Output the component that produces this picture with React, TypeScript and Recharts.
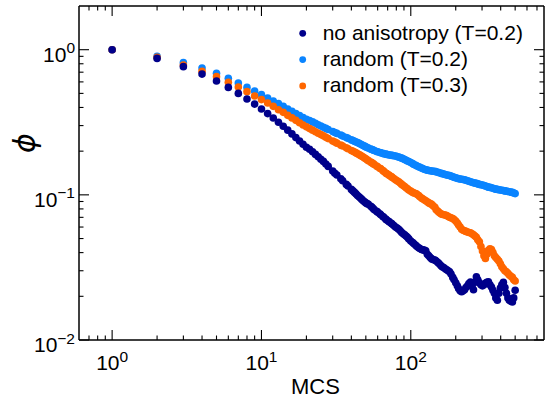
import React from 'react';
import { ScatterChart, Scatter, XAxis, YAxis, Legend } from 'recharts';

// MCS values (x) at which the curves are sampled
const MCS = [
  // 1 .. 38
  1, 2, 3, 4, 5, 6, 7, 8, 9, 10,
  11, 12, 13, 14, 15, 16, 17, 18, 19, 20,
  21, 22, 23, 24, 25, 26, 27, 28,
  30, 31, 32, 34, 35, 37, 38,
  // 40 .. 97
  40, 41, 42, 43, 44, 45, 46, 47, 48, 49,
  50, 51, 52, 54, 55, 56, 57, 59, 60, 62,
  63, 65, 66, 68, 69, 71, 72, 74, 75, 77,
  79, 81, 83, 85, 87, 89, 91, 93, 95, 97,
  // 100 .. 500
  100, 103, 105, 108, 110, 113, 115, 118, 120, 123,
  126, 129, 132, 135, 138, 141, 145, 148, 152, 155,
  159, 162, 166, 170, 174, 178, 182, 186, 191, 195,
  200, 205, 209, 214, 219, 224, 229, 234, 240, 245,
  251, 257, 263, 269, 275, 281, 288, 295, 302, 309,
  316, 323, 331, 339, 347, 355, 363, 371, 380, 389,
  398, 407, 417, 427, 437, 447, 457, 468, 479, 489,
  500,
];

// phi, no anisotropy (T=0.2)
const PHI_NO_ANISO = [
  1.0, 0.871, 0.764, 0.679, 0.608, 0.55, 0.5, 0.457, 0.422, 0.39,
  0.363, 0.338, 0.316, 0.297, 0.279, 0.263, 0.248, 0.235, 0.223, 0.213,
  0.206, 0.198, 0.19, 0.183, 0.176, 0.17, 0.163, 0.157,
  0.146, 0.141, 0.137, 0.129, 0.125, 0.118, 0.115,

  0.109, 0.1065, 0.104, 0.1015, 0.099, 0.097, 0.095, 0.093, 0.091, 0.0895,
  0.088, 0.087, 0.086, 0.0835, 0.082, 0.0805, 0.079, 0.077, 0.076, 0.074,
  0.073, 0.071, 0.07, 0.068, 0.067, 0.0657, 0.065, 0.0637, 0.063, 0.0615,
  0.06, 0.059, 0.058, 0.0565, 0.055, 0.054, 0.053, 0.052, 0.051, 0.0497,

  0.048, 0.047, 0.046, 0.045, 0.044, 0.0432, 0.0427, 0.042, 0.0418, 0.0416,
  0.0412, 0.039, 0.038, 0.037, 0.0362, 0.0358, 0.0356, 0.035, 0.0342, 0.0335,
  0.0326, 0.032, 0.0316, 0.031, 0.0305, 0.03, 0.0295, 0.0285, 0.027, 0.026,
  0.0248, 0.0236, 0.0226, 0.0218, 0.0215, 0.0218, 0.0222, 0.023, 0.0236, 0.0245,
  0.0251, 0.0235, 0.0222, 0.025, 0.0273, 0.026, 0.0248, 0.024, 0.0236, 0.024,
  0.0246, 0.025, 0.0252, 0.024, 0.0232, 0.022, 0.021, 0.0195, 0.0188, 0.021,
  0.0228, 0.024, 0.025, 0.023, 0.021, 0.0195, 0.0188, 0.0185, 0.0183, 0.0195,
  0.022,
];

// phi, random (T=0.2)
const PHI_RANDOM_02 = [
  1.0, 0.9, 0.814, 0.747, 0.687, 0.635, 0.589, 0.55, 0.519, 0.49,
  0.464, 0.443, 0.425, 0.407, 0.39, 0.376, 0.363, 0.352, 0.341, 0.332,
  0.325, 0.318, 0.311, 0.304, 0.298, 0.292, 0.287, 0.282,
  0.273, 0.269, 0.265, 0.258, 0.254, 0.248, 0.245,

  0.239, 0.2365, 0.234, 0.2315, 0.229, 0.2265, 0.224, 0.2215, 0.219, 0.2165,
  0.214, 0.212, 0.21, 0.2065, 0.205, 0.2035, 0.202, 0.199, 0.198, 0.196,
  0.195, 0.193, 0.192, 0.1907, 0.19, 0.1887, 0.188, 0.1873, 0.187, 0.186,
  0.185, 0.1835, 0.182, 0.1805, 0.179, 0.177, 0.175, 0.173, 0.171, 0.1695,

  0.167, 0.164, 0.162, 0.16, 0.158, 0.156, 0.155, 0.153, 0.152, 0.15,
  0.149, 0.148, 0.147, 0.1465, 0.146, 0.1455, 0.145, 0.144, 0.143, 0.142,
  0.141, 0.14, 0.139, 0.138, 0.137, 0.1365, 0.136, 0.1345, 0.133, 0.132,
  0.131, 0.13, 0.129, 0.1285, 0.128, 0.1275, 0.127, 0.126, 0.125, 0.124,
  0.123, 0.122, 0.121, 0.1205, 0.12, 0.119, 0.118, 0.1175, 0.117, 0.116,
  0.115, 0.114, 0.113, 0.1125, 0.112, 0.111, 0.11, 0.1095, 0.109, 0.1085,
  0.108, 0.1075, 0.107, 0.1065, 0.106, 0.1055, 0.105, 0.1045, 0.104, 0.103,
  0.102,
];

// phi, random (T=0.3)
const PHI_RANDOM_03 = [
  1.0, 0.885, 0.784, 0.709, 0.652, 0.596, 0.553, 0.514, 0.48, 0.453,
  0.429, 0.407, 0.386, 0.37, 0.353, 0.339, 0.326, 0.314, 0.303, 0.294,
  0.286, 0.279, 0.272, 0.266, 0.26, 0.255, 0.249, 0.244,
  0.235, 0.231, 0.227, 0.22, 0.217, 0.211, 0.208,

  0.202, 0.1995, 0.197, 0.1945, 0.192, 0.1895, 0.187, 0.1845, 0.182, 0.1795,
  0.177, 0.1745, 0.172, 0.168, 0.166, 0.164, 0.162, 0.158, 0.156, 0.1525,
  0.151, 0.147, 0.145, 0.1415, 0.14, 0.1375, 0.136, 0.1335, 0.132, 0.1295,
  0.127, 0.125, 0.123, 0.1205, 0.118, 0.116, 0.114, 0.112, 0.11, 0.108,

  0.106, 0.104, 0.103, 0.102, 0.101, 0.099, 0.097, 0.095, 0.094, 0.0925,
  0.091, 0.0895, 0.088, 0.087, 0.086, 0.084, 0.082, 0.079, 0.077, 0.0755,
  0.074, 0.0735, 0.073, 0.0725, 0.072, 0.071, 0.07, 0.0695, 0.0687, 0.0675,
  0.066, 0.064, 0.062, 0.06, 0.058, 0.057, 0.0565, 0.056, 0.0555, 0.055,
  0.0548, 0.054, 0.053, 0.052, 0.051, 0.049, 0.0475, 0.044, 0.041, 0.038,
  0.0365, 0.039, 0.0415, 0.0425, 0.042, 0.04, 0.038, 0.037, 0.036, 0.035,
  0.0335, 0.032, 0.031, 0.03, 0.0295, 0.0288, 0.028, 0.0275, 0.027, 0.026,
  0.0255,
];

const X_TICKS = [
  0.7, 0.8, 0.9,
  1, 2, 3, 4, 5, 6, 7, 8, 9,
  10, 20, 30, 40, 50, 60, 70, 80, 90,
  100, 200, 300, 400, 500, 600, 700,
];
const Y_TICKS = [
  0.01, 0.02, 0.03, 0.04, 0.05, 0.06, 0.07, 0.08, 0.09,
  0.1, 0.2, 0.3, 0.4, 0.5, 0.6, 0.7, 0.8, 0.9,
  1,
];

const SERIES_NAMES = ['no anisotropy (T=0.2)', 'random (T=0.2)', 'random (T=0.3)'];
const COLORS = ['#00008b', '#0a84ff', '#ff6600'];

const FONT = '"Liberation Sans", Arial, Helvetica, sans-serif';
const X_DOMAIN: [number, number] = [0.6, 780];
const Y_DOMAIN: [number, number] = [0.01, 2];

const toPoints = (ys: number[]) => MCS.map((x, i) => ({ x, y: ys[i] }));
const dataNo = toPoints(PHI_NO_ANISO);
const data02 = toPoints(PHI_RANDOM_02);
const data03 = toPoints(PHI_RANDOM_03);

const isMajor = (v: number) => {
  const lg = Math.log10(v);
  return Math.abs(lg - Math.round(lg)) < 1e-6;
};
const expText = (v: number) => {
  const e = Math.round(Math.log10(v));
  return e < 0 ? '\u2212' + Math.abs(e) : String(e);
};

const makeXTick = (side: 'bottom' | 'top') => (props: any) => {
  const { x, y, payload } = props;
  const v = payload.value;
  const major = isMajor(v);
  const len = major ? 10 : 4.5;
  const dir = side === 'bottom' ? -1 : 1;
  return (
    <g>
      <line x1={x} y1={y} x2={x} y2={y + dir * len} stroke="#000" strokeWidth={1.1} />
      {side === 'bottom' && major && (
        <text x={x} y={y + 30} textAnchor="middle" fontSize={21} fontFamily={FONT} fill="#000">
          10
          <tspan dy={-8.5} fontSize={15.5}>{expText(v)}</tspan>
        </text>
      )}
    </g>
  );
};

const makeYTick = (side: 'left' | 'right') => (props: any) => {
  const { x, y, payload } = props;
  const v = payload.value;
  const major = isMajor(v);
  const len = major ? 10 : 4.5;
  const dir = side === 'left' ? 1 : -1;
  return (
    <g>
      <line x1={x} y1={y} x2={x + dir * len} y2={y} stroke="#000" strokeWidth={1.1} />
      {side === 'left' && major && (
        <text x={x - 4} y={y + 12} textAnchor="end" fontSize={21} fontFamily={FONT} fill="#000">
          10
          <tspan dy={-8.5} fontSize={15.5}>{expText(v)}</tspan>
        </text>
      )}
    </g>
  );
};

const dot = (color: string, r: number) => (p: any) =>
  p.cx == null || p.cy == null ? <g /> : <circle cx={p.cx} cy={p.cy} r={r} fill={color} />;

const LegendBox = () => (
  <svg width={255} height={95} style={{ overflow: 'visible' }}>
    {SERIES_NAMES.map((name, i) => {
      const cy = 23.3 + i * 26.3;
      return (
        <g key={name}>
          <circle cx={12.7} cy={cy} r={3.4} fill={COLORS[i]} />
          <text x={32.7} y={cy + 6.5} fontSize={21} fontFamily={FONT} fill="#000">
            {name}
          </text>
        </g>
      );
    })}
  </svg>
);

const MCSLabel = () => (
  <text x={315.5} y={393.5} textAnchor="middle" fontSize={22} fontFamily={FONT} fill="#000">
    MCS
  </text>
);

const PhiLabel = () => (
  <text
    x={24}
    y={143}
    transform="rotate(-90 24 143)"
    textAnchor="middle"
    dominantBaseline="central"
    fontSize={30}
    fontStyle="italic"
    fontFamily='"DejaVu Sans", sans-serif'
    fill="#000"
  >
    {'\u03D5'}
  </text>
);

export default function App() {
  const axisLine = { stroke: '#000', strokeWidth: 1.5 };
  return (
    <div style={{ position: 'absolute', left: 0, top: 0, width: 545, height: 401, background: '#fff' }}>
      <ScatterChart width={545} height={401} margin={{ top: 5, right: 0, bottom: 60, left: 78 }}>
        <XAxis
          xAxisId="b"
          dataKey="x"
          type="number"
          scale="log"
          domain={X_DOMAIN}
          allowDataOverflow
          ticks={X_TICKS}
          interval={0}
          height={1}
          tickSize={0}
          tickMargin={0}
          tickLine={false}
          axisLine={axisLine}
          tick={makeXTick('bottom')}
          label={() => <MCSLabel />}
        />
        <XAxis
          xAxisId="t"
          orientation="top"
          dataKey="x"
          type="number"
          scale="log"
          domain={X_DOMAIN}
          allowDataOverflow
          ticks={X_TICKS}
          interval={0}
          height={1}
          tickSize={0}
          tickMargin={0}
          tickLine={false}
          axisLine={axisLine}
          tick={makeXTick('top')}
        />
        <YAxis
          yAxisId="l"
          dataKey="y"
          type="number"
          scale="log"
          domain={Y_DOMAIN}
          allowDataOverflow
          ticks={Y_TICKS}
          interval={0}
          width={1}
          tickSize={0}
          tickMargin={0}
          tickLine={false}
          axisLine={axisLine}
          tick={makeYTick('left')}
          label={() => <PhiLabel />}
        />
        <YAxis
          yAxisId="r"
          orientation="right"
          dataKey="y"
          type="number"
          scale="log"
          domain={Y_DOMAIN}
          allowDataOverflow
          ticks={Y_TICKS}
          interval={0}
          width={1}
          tickSize={0}
          tickMargin={0}
          tickLine={false}
          axisLine={axisLine}
          tick={makeYTick('right')}
        />
        <Legend
          layout="horizontal"
          verticalAlign="middle"
          align="center"
          wrapperStyle={{ left: 290, top: 10, width: 255, height: 95 }}
          content={() => <LegendBox />}
        />
        <Scatter
          name="frame"
          data={dataNo}
          xAxisId="t"
          yAxisId="r"
          isAnimationActive={false}
          shape={() => <g />}
          legendType="none"
        />
        <Scatter
          name={SERIES_NAMES[1]}
          data={data02}
          xAxisId="b"
          yAxisId="l"
          isAnimationActive={false}
          shape={dot(COLORS[1], 3.8)}
        />
        <Scatter
          name={SERIES_NAMES[2]}
          data={data03}
          xAxisId="b"
          yAxisId="l"
          isAnimationActive={false}
          shape={dot(COLORS[2], 3.8)}
        />
        <Scatter
          name={SERIES_NAMES[0]}
          data={dataNo}
          xAxisId="b"
          yAxisId="l"
          isAnimationActive={false}
          shape={dot(COLORS[0], 3.8)}
        />
      </ScatterChart>
    </div>
  );
}
